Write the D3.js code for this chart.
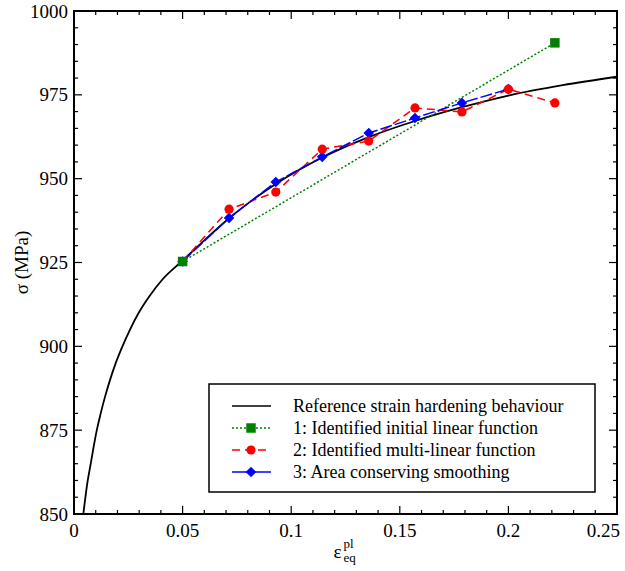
<!DOCTYPE html>
<html>
<head>
<meta charset="utf-8">
<script src="https://cdn.jsdelivr.net/npm/d3@7"></script>
<style>
body { margin: 0; background: #fff; }
svg text { font-family: "Liberation Serif", "DejaVu Serif", serif; fill: #000; }
</style>
</head>
<body>
<div id="chart"></div>
<script>
// reference curve
var refStrain = [0.0043, 0.0062, 0.0077, 0.0089, 0.0105, 0.0123, 0.0143, 0.0166, 0.0192, 0.0223,
    0.0258, 0.0298, 0.0348, 0.0408, 0.049, 0.06, 0.0714, 0.0929, 0.1143, 0.1357,
    0.157, 0.1786, 0.2, 0.225, 0.25];
var refStress = [850, 859.5, 865, 869.5, 875, 880, 885, 890, 895, 900,
    905, 910, 915, 920, 925, 931.6, 938.2, 948.4, 956.3, 962.4,
    967.2, 971.3, 974.8, 977.9, 980.4];

var linStrain = [0.05, 0.2214];
var linStress = [925.3, 990.5];

var multiStrain = [0.05, 0.0714, 0.0929, 0.1143, 0.1357, 0.157, 0.1786, 0.2, 0.2214];
var multiStress = [925.3, 940.9, 946.0, 958.8, 961.2, 971.1, 969.9, 976.7, 972.6];

var smoothStrain = [0.05, 0.0714, 0.0929, 0.1143, 0.1357, 0.157, 0.1786, 0.2];
var smoothStress = [925.3, 938.3, 949.0, 956.5, 963.6, 968.1, 972.6, 976.7];

var xTicks = [0, 0.05, 0.1, 0.15, 0.2, 0.25];
var xTickLabels = ['0', '0.05', '0.1', '0.15', '0.2', '0.25'];
var yTicks = [850, 875, 900, 925, 950, 975, 1000];

var legendLabels = ['Reference strain hardening behaviour',
    '1: Identified initial linear function',
    '2: Identified multi-linear function',
    '3: Area conserving smoothing'];

var W = 625, H = 571;
var margin = {top: 11, right: 8, bottom: 57, left: 74};
var width = W - margin.left - margin.right,
    height = H - margin.top - margin.bottom;
var serif = '"Liberation Serif", "DejaVu Serif", serif';

var svg = d3.select('#chart').append('svg')
    .attr('width', W).attr('height', H)
    .attr('font-family', serif)
    .append('g')
    .attr('transform', 'translate(' + margin.left + ',' + margin.top + ')');

var x = d3.scaleLinear().domain([0, 0.25]).range([0, width]);
var y = d3.scaleLinear().domain([850, 1000]).range([height, 0]);

function zip(xs, ys) { return xs.map(function(v, i) { return [v, ys[i]]; }); }

svg.append('defs').append('clipPath').attr('id', 'clip')
    .append('rect').attr('width', width).attr('height', height);

// ticks, inward on all four sides
var xMinor = d3.range(0, 0.2501, 0.01);
var yMinor = d3.range(850, 1000.1, 5);

function inTicks(side) {
    var g = svg.append('g').attr('class', 'ticks-' + side);
    var horiz = side == 'bottom' || side == 'top';
    var major = horiz ? xTicks : yTicks;
    var minor = horiz ? xMinor : yMinor;
    minor.forEach(function(v) {
        var isMajor = major.some(function(m) { return Math.abs(m - v) < 1e-6; });
        var len = isMajor ? 8 : 4;
        var l = g.append('line').attr('stroke', '#000').attr('stroke-width', 1.2);
        if (side == 'bottom') l.attr('x1', x(v)).attr('x2', x(v)).attr('y1', height).attr('y2', height - len);
        if (side == 'top') l.attr('x1', x(v)).attr('x2', x(v)).attr('y1', 0).attr('y2', len);
        if (side == 'left') l.attr('y1', y(v)).attr('y2', y(v)).attr('x1', 0).attr('x2', len);
        if (side == 'right') l.attr('y1', y(v)).attr('y2', y(v)).attr('x1', width).attr('x2', width - len);
    });
}
['bottom', 'top', 'left', 'right'].forEach(inTicks);

// tick labels (last one pulled inside the page edge)
svg.append('g').selectAll('text').data(xTicks).enter().append('text')
    .attr('x', function(d, i) { return i == xTicks.length - 1 ? x(d) + 3 : x(d); })
    .attr('y', height + 23)
    .attr('text-anchor', function(d, i) { return i == xTicks.length - 1 ? 'end' : 'middle'; })
    .style('font-size', '19px')
    .text(function(d, i) { return xTickLabels[i]; });

svg.append('g').selectAll('text').data(yTicks).enter().append('text')
    .attr('x', -6)
    .attr('y', function(d) { return y(d); })
    .attr('dy', '0.35em')
    .attr('text-anchor', 'end')
    .style('font-size', '19px')
    .text(function(d) { return d; });

// axis labels
svg.append('text')
    .attr('transform', 'translate(' + (-46) + ',' + (height / 2) + ') rotate(-90)')
    .attr('text-anchor', 'middle')
    .style('font-size', '19px')
    .text('σ (MPa)');

var xl = svg.append('g').attr('transform', 'translate(' + x(0.1195) + ',' + (height + 44) + ')');
xl.append('text').attr('x', 0).attr('y', 0).style('font-size', '19px').text('ε');
xl.append('text').attr('x', 10).attr('y', -10).style('font-size', '13px').text('pl');
xl.append('text').attr('x', 10).attr('y', 4).style('font-size', '13px').text('eq');

// series
var line = d3.line().x(function(d) { return x(d[0]); }).y(function(d) { return y(d[1]); });
var plot = svg.append('g').attr('clip-path', 'url(#clip)');

plot.append('path')
    .datum(zip(refStrain, refStress))
    .attr('fill', 'none').attr('stroke', '#000').attr('stroke-width', 1.8)
    .attr('d', line.curve(d3.curveMonotoneX));

line.curve(d3.curveLinear);

plot.append('path')
    .datum(zip(linStrain, linStress))
    .attr('fill', 'none').attr('stroke', '#008000').attr('stroke-width', 1.5)
    .attr('stroke-dasharray', '2,2')
    .attr('d', line);

plot.append('path')
    .datum(zip(multiStrain, multiStress))
    .attr('fill', 'none').attr('stroke', '#ff0000').attr('stroke-width', 1.5)
    .attr('stroke-dasharray', '8,5')
    .attr('d', line);

plot.append('path')
    .datum(zip(smoothStrain, smoothStress))
    .attr('fill', 'none').attr('stroke', '#0000ff').attr('stroke-width', 1.5)
    .attr('stroke-dasharray', '12,3')
    .attr('d', line);

var sq = d3.symbol().type(d3.symbolSquare).size(90);
var dia = d3.symbol().type(d3.symbolSquare).size(56);

svg.append('g').selectAll('path').data(zip(smoothStrain, smoothStress)).enter().append('path')
    .attr('d', dia)
    .attr('transform', function(d) { return 'translate(' + x(d[0]) + ',' + y(d[1]) + ') rotate(45)'; })
    .attr('fill', '#0000ff');

svg.append('g').selectAll('circle').data(zip(multiStrain, multiStress)).enter().append('circle')
    .attr('cx', function(d) { return x(d[0]); })
    .attr('cy', function(d) { return y(d[1]); })
    .attr('r', 4.6)
    .attr('fill', '#ff0000');

svg.append('g').selectAll('path').data(zip(linStrain, linStress)).enter().append('path')
    .attr('d', sq)
    .attr('transform', function(d) { return 'translate(' + x(d[0]) + ',' + y(d[1]) + ')'; })
    .attr('fill', '#008000');

// frame
svg.append('rect')
    .attr('width', width).attr('height', height)
    .attr('fill', 'none').attr('stroke', '#000').attr('stroke-width', 2);

// legend
var lg = svg.append('g').attr('transform', 'translate(135,373)');
lg.append('rect')
    .attr('width', 386).attr('height', 108)
    .attr('fill', '#fff').attr('stroke', '#000').attr('stroke-width', 1.5);

var legendStyles = [
    {color: '#000', dash: null, marker: null},
    {color: '#008000', dash: '2,2', marker: 'square'},
    {color: '#ff0000', dash: '8,5', marker: 'circle'},
    {color: '#0000ff', dash: null, marker: 'diamond'}
];

legendLabels.forEach(function(label, i) {
    var st = legendStyles[i];
    var row = lg.append('g').attr('transform', 'translate(0,' + (22 + i * 22) + ')');
    row.append('line')
        .attr('x1', 23).attr('x2', 62).attr('y1', 0).attr('y2', 0)
        .attr('stroke', st.color).attr('stroke-width', 1.5)
        .attr('stroke-dasharray', st.dash);
    if (st.marker == 'square') {
        row.append('path').attr('d', sq).attr('transform', 'translate(42,0)').attr('fill', st.color);
    } else if (st.marker == 'circle') {
        row.append('circle').attr('cx', 42).attr('r', 4.6).attr('fill', st.color);
    } else if (st.marker == 'diamond') {
        row.append('path').attr('d', dia).attr('transform', 'translate(42,0) rotate(45)').attr('fill', st.color);
    }
    row.append('text')
        .attr('x', 84).attr('y', 0).attr('dy', '0.35em')
        .style('font-size', '18px')
        .text(label);
});
</script>
</body>
</html>
